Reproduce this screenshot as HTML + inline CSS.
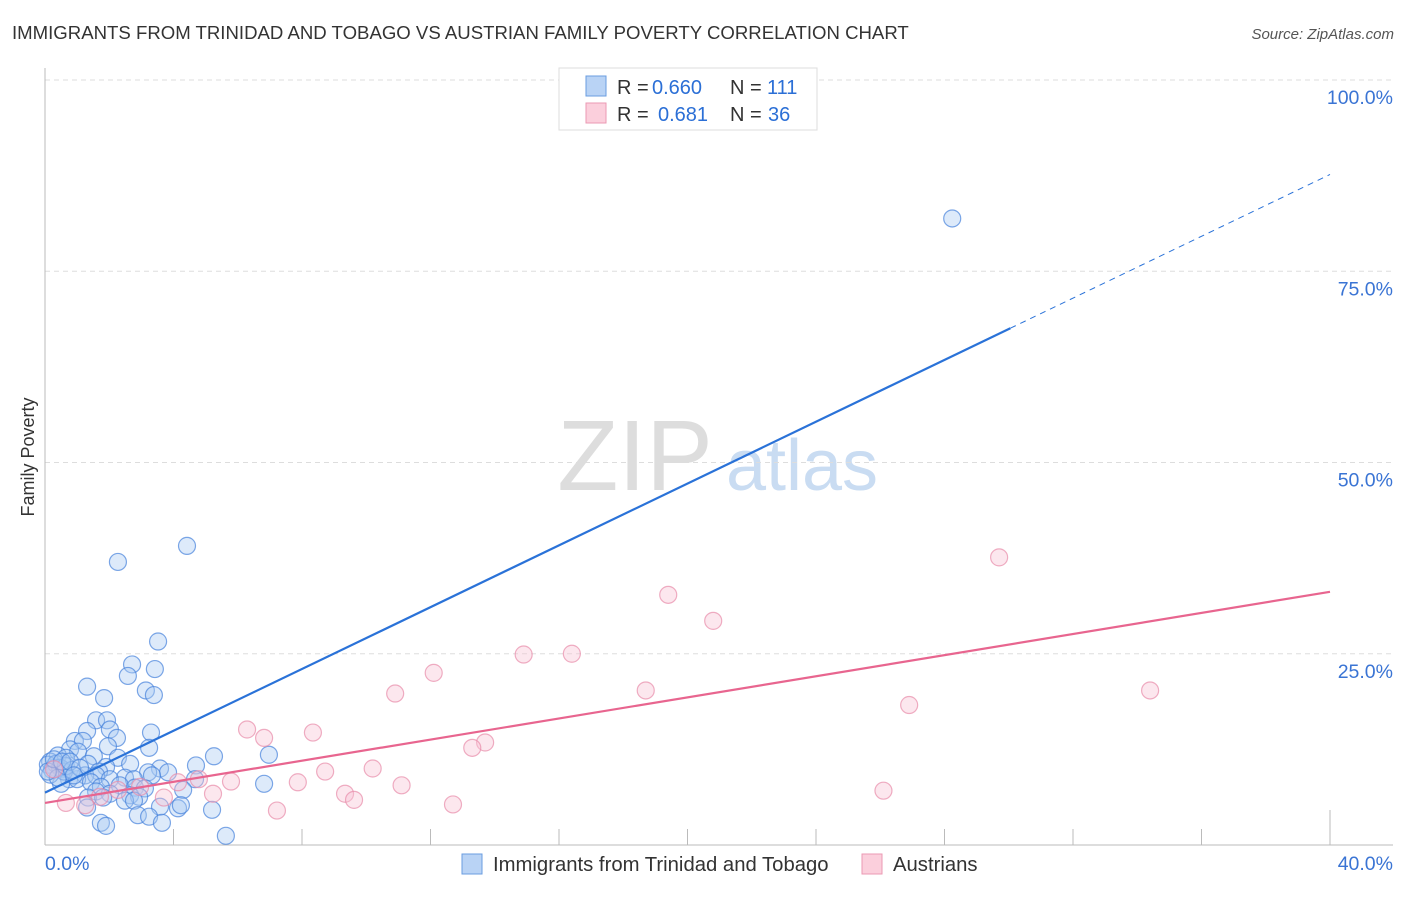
<!DOCTYPE html>
<html><head><meta charset="utf-8">
<style>
body{margin:0;background:#fff;font-family:"Liberation Sans",sans-serif;}
svg text{font-family:"Liberation Sans",sans-serif;}
</style></head>
<body>
<svg id="chart" width="1406" height="892" xmlns="http://www.w3.org/2000/svg">
<text x="12" y="39" font-size="18.6" fill="#333">IMMIGRANTS FROM TRINIDAD AND TOBAGO VS AUSTRIAN FAMILY POVERTY CORRELATION CHART</text>
<text x="1394" y="39" font-size="15" fill="#555" font-style="italic" text-anchor="end">Source: ZipAtlas.com</text>
<text x="34" y="457" font-size="18" fill="#333" text-anchor="middle" transform="rotate(-90 34 457)">Family Poverty</text>
<g>
<text x="635" y="490" font-size="100" fill="#ddd" font-family="Liberation Serif" text-anchor="middle">ZIP</text>
<text x="802" y="490" font-size="72" fill="#c9dcf2" text-anchor="middle">atlas</text>
</g>
<g id="grid"></g>
<g id="axes"></g>
<g id="pts"></g>
<g id="lines"></g>
<g>
<rect x="559" y="68" width="258" height="62" fill="#fff" stroke="#ddd"/>
<rect x="586" y="76" width="20" height="20" fill="#b9d3f5" stroke="#6a9de0"/>
<rect x="586" y="103" width="20" height="20" fill="#fbcfdc" stroke="#eb9ab3"/>
<g font-size="20">
<text x="617" y="94" fill="#333">R =</text><text x="652" y="94" fill="#2b6fd6">0.660</text>
<text x="730" y="94" fill="#333">N =</text><text x="767" y="94" fill="#2b6fd6">111</text>
<text x="617" y="121" fill="#333">R =</text><text x="658" y="121" fill="#2b6fd6">0.681</text>
<text x="730" y="121" fill="#333">N =</text><text x="768" y="121" fill="#2b6fd6">36</text>
</g>
</g>
<g>
<rect x="462" y="854" width="20" height="20" fill="#b9d3f5" stroke="#6a9de0"/>
<text x="493" y="871" font-size="20.3" fill="#333">Immigrants from Trinidad and Tobago</text>
<rect x="862" y="854" width="20" height="20" fill="#fbcfdc" stroke="#eb9ab3"/>
<text x="893" y="871" font-size="20.3" fill="#333">Austrians</text>
</g>
</svg>
<script>
const blueX=[28.24,4.42,2.27,3.52,2.71,3.42,2.58,1.31,3.14,3.39,1.84,1.59,1.93,2.02,1.31,2.24,3.30,0.93,1.18,1.96,3.24,0.78,1.03,0.40,0.65,1.52,2.27,5.26,6.97,0.16,1.34,2.65,4.70,1.90,0.31,0.53,3.58,1.68,3.21,3.83,1.25,1.59,3.33,2.49,0.75,1.00,2.02,2.77,4.67,1.43,0.50,2.33,6.82,1.74,2.80,4.30,3.11,1.59,2.02,2.65,2.93,1.34,1.81,2.49,2.77,1.31,3.58,4.14,5.20,4.23,2.89,3.24,1.74,1.90,3.64,5.63,0.09,0.22,0.34,0.47,0.59,0.16,0.40,0.65,0.84,0.09,0.28,0.53,0.78,1.09,0.90];
const blueY=[81.9,39.1,37.0,26.6,23.6,23.0,22.1,20.7,20.2,19.6,19.2,16.3,16.3,15.1,14.9,14.0,14.7,13.6,13.6,12.9,12.7,12.5,12.2,11.7,11.4,11.6,11.4,11.6,11.8,10.9,10.6,10.6,10.4,10.2,10.1,9.9,10.0,9.6,9.5,9.5,9.1,9.1,9.1,8.8,8.6,8.6,8.6,8.6,8.6,8.2,8.0,7.8,8.0,7.6,7.5,7.2,7.4,7.0,6.7,6.5,6.3,6.2,6.2,5.8,5.8,4.9,5.0,4.8,4.6,5.2,3.9,3.7,2.9,2.5,2.9,1.2,10.5,9.8,10.6,10.1,9.6,9.2,8.8,10.3,9.8,9.6,11.2,10.9,10.9,10.1,9.1];
const pinkX=[29.7,19.4,20.8,14.9,16.4,12.1,18.7,10.9,34.4,26.9,6.29,8.34,6.82,13.7,13.3,10.2,8.72,7.87,5.79,4.79,11.1,4.14,26.1,9.34,5.23,9.62,3.70,1.71,0.65,12.7,7.22,1.25,0.28,2.27,2.96];
const pinkY=[37.6,32.7,29.3,24.9,25.0,22.5,20.2,19.8,20.2,18.3,15.1,14.7,14.0,13.4,12.7,10.0,9.6,8.2,8.3,8.6,7.8,8.2,7.1,6.7,6.7,5.9,6.2,6.3,5.5,5.3,4.5,5.2,9.9,7.2,7.6];
const blueTrend=[6.85,2.02]; // intercept, slope per %
const pinkTrend=[5.5,0.69];
const yTicks=[25,50,75,100];
const yTickLabels=["25.0%","50.0%","75.0%","100.0%"];
const xTicks=[0,4,8,12,16,20,24,28,32,36,40];
const NS="http://www.w3.org/2000/svg";
const X=v=>45+v/40*1285;
const Y=v=>845-v/25*191.25;
function mk(tag,attrs,parent){const e=document.createElementNS(NS,tag);for(const k in attrs)e.setAttribute(k,attrs[k]);document.getElementById(parent).appendChild(e);return e;}
yTicks.forEach((t,i)=>{
  const g=mk('line',{x1:45,x2:1393,y1:Y(t),y2:Y(t),stroke:'#ddd','stroke-dasharray':'5,4'},'grid');
  
  
  const l=mk('text',{x:1393,y:Y(t)+24,'font-size':19.5,fill:'#3a74d4','text-anchor':'end'},'grid');
  l.textContent=yTickLabels[i];
  
  
});
let a=mk('line',{x1:45,x2:45,y1:68,y2:845,stroke:'#bbb'},'axes');


a=mk('line',{x1:45,x2:1393,y1:845,y2:845,stroke:'#bbb'},'axes');


xTicks.forEach(t=>{
  const k=mk('line',{x1:X(t),x2:X(t),y1:t==40?810:829,y2:845,stroke:'#bbb'},'axes');
  
  
});
let t=mk('text',{x:45,y:870,'font-size':19.5,fill:'#3a74d4'},'axes');t.textContent='0.0%';


t=mk('text',{x:1393,y:870,'font-size':19.5,fill:'#3a74d4','text-anchor':'end'},'axes');t.textContent='40.0%';


blueX.forEach((x,i)=>{
  const c=mk('circle',{cx:X(x),cy:Y(blueY[i]),r:8.5,fill:'rgba(170,202,242,0.4)',stroke:'rgba(70,130,220,0.7)','stroke-width':1.2},'pts');
  
  
});
pinkX.forEach((x,i)=>{
  const c=mk('circle',{cx:X(x),cy:Y(pinkY[i]),r:8.5,fill:'rgba(248,195,212,0.4)',stroke:'rgba(232,140,170,0.7)','stroke-width':1.2},'pts');
  
  
});
const bx1=30.05;
let ln=mk('line',{x1:X(0),y1:Y(blueTrend[0]),x2:X(bx1),y2:Y(blueTrend[0]+blueTrend[1]*bx1),stroke:'#2a72d8','stroke-width':2.2},'lines');


ln=mk('line',{x1:X(bx1),y1:Y(blueTrend[0]+blueTrend[1]*bx1),x2:X(40),y2:Y(blueTrend[0]+blueTrend[1]*40),stroke:'#2a72d8','stroke-width':1,'stroke-dasharray':'6,5'},'lines');


ln=mk('line',{x1:X(0),y1:Y(pinkTrend[0]),x2:X(40),y2:Y(pinkTrend[0]+pinkTrend[1]*40),stroke:'#e8658f','stroke-width':2.2},'lines');


</script>
</body></html>
